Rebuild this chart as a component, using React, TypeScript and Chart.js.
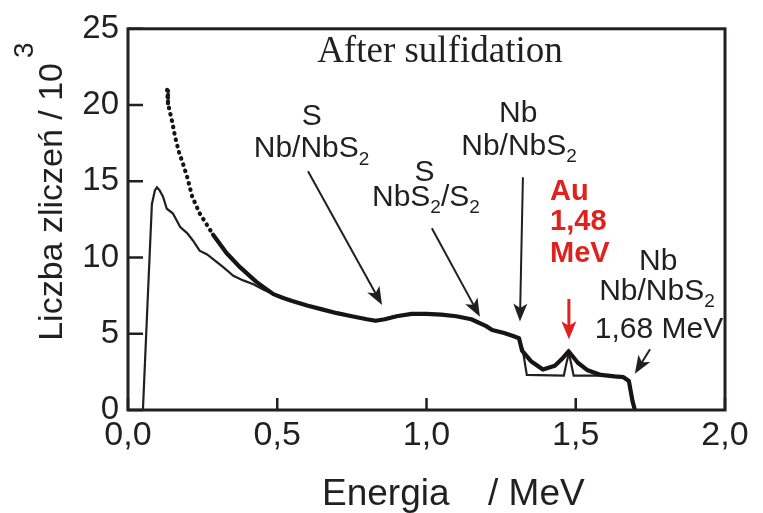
import { useEffect, useRef } from "react";
import { Chart, registerables } from "chart.js";

Chart.register(...registerables);

// ---------- data ----------
const energyA = [0.05, 0.065, 0.08, 0.09, 0.097, 0.106, 0.117, 0.13, 0.15, 0.175, 0.198, 0.218, 0.24, 0.265, 0.285, 0.32, 0.353, 0.386, 0.42, 0.453, 0.487, 0.52, 0.55, 0.6, 0.65, 0.7, 0.75, 0.8, 0.83, 0.86, 0.9, 0.95, 1.0, 1.05, 1.1, 1.15, 1.2, 1.22, 1.26, 1.29, 1.31, 1.322, 1.336, 1.46, 1.468, 1.477, 1.485, 1.493, 1.6, 1.66, 1.678, 1.69, 1.698];
const countsA = [0, 6.8, 13.5, 14.4, 14.6, 14.4, 14.0, 13.2, 12.9, 12.0, 11.6, 11.1, 10.45, 10.2, 9.9, 9.35, 8.8, 8.5, 8.25, 7.9, 7.6, 7.35, 7.15, 6.85, 6.6, 6.35, 6.15, 5.95, 5.85, 5.95, 6.15, 6.3, 6.3, 6.25, 6.15, 5.95, 5.5, 5.25, 5.05, 4.85, 4.7, 4.0, 2.3, 2.25, 3.0, 3.75, 3.0, 2.25, 2.25, 2.15, 1.9, 0.6, 0];

const energyB = [0.131, 0.134, 0.148, 0.158, 0.171, 0.185, 0.198, 0.215, 0.24, 0.285, 0.33, 0.376, 0.43, 0.487, 0.52, 0.55, 0.6, 0.65, 0.7, 0.75, 0.8, 0.83, 0.86, 0.9, 0.95, 1.0, 1.05, 1.1, 1.15, 1.2, 1.22, 1.26, 1.29, 1.31, 1.32, 1.35, 1.39, 1.43, 1.456, 1.476, 1.507, 1.54, 1.584, 1.63, 1.66, 1.678, 1.69, 1.698];
const countsB = [21.0, 20.1, 18.9, 17.9, 16.9, 16.1, 15.3, 14.0, 12.9, 11.5, 10.3, 9.35, 8.4, 7.6, 7.35, 7.15, 6.85, 6.6, 6.35, 6.15, 5.95, 5.85, 5.95, 6.15, 6.3, 6.3, 6.25, 6.15, 5.95, 5.5, 5.25, 5.05, 4.85, 4.7, 3.9, 3.2, 2.65, 2.9, 3.4, 3.85, 3.1, 2.6, 2.3, 2.2, 2.15, 1.9, 0.6, 0];

const xTickValues = [0, 0.5, 1.0, 1.5, 2.0];
const yTickValues = [0, 5, 10, 15, 20, 25];

const titleText = "After sulfidation";
const yTitleText = "Liczba zliczeń / 10";
const yTitleSup = "3";
const xTitleParts = ["Energia", "/ MeV"];

// ---------- styling ----------
const INK = "#231f20";
const RED = "#e0211d";
const SANS = "'Liberation Sans', Arial, sans-serif";
const SERIF = "'Liberation Serif', 'Times New Roman', serif";

type Part = [string, boolean?];

function drawRich(ctx: CanvasRenderingContext2D, parts: Part[], x: number, y: number, size: number, align: "center" | "left", color: string, bold = false) {
  const subSize = Math.round(size * 0.64);
  const w = parts.map(([t, sub]) => {
    ctx.font = `${bold ? "bold " : ""}${sub ? subSize : size}px ${SANS}`;
    return ctx.measureText(t).width;
  });
  const total = w.reduce((a, b) => a + b, 0);
  let cx = align === "center" ? x - total / 2 : x;
  ctx.fillStyle = color;
  ctx.textBaseline = "alphabetic";
  ctx.textAlign = "left";
  parts.forEach(([t, sub], i) => {
    ctx.font = `${bold ? "bold " : ""}${sub ? subSize : size}px ${SANS}`;
    ctx.fillText(t, cx, sub ? y + size * 0.24 : y);
    cx += w[i];
  });
}

function drawArrow(ctx: CanvasRenderingContext2D, x1: number, y1: number, x2: number, y2: number, color: string, lw: number, headLen: number, headW: number) {
  const a = Math.atan2(y2 - y1, x2 - x1);
  const c = Math.cos(a), s = Math.sin(a);
  ctx.strokeStyle = color;
  ctx.fillStyle = color;
  ctx.lineWidth = lw;
  ctx.beginPath();
  ctx.moveTo(x1, y1);
  ctx.lineTo(x2 - c * headLen * 0.7, y2 - s * headLen * 0.7);
  ctx.stroke();
  const bx = x2 - c * headLen, by = y2 - s * headLen;
  ctx.beginPath();
  ctx.moveTo(x2, y2);
  ctx.lineTo(bx - s * headW / 2, by + c * headW / 2);
  ctx.lineTo(x2 - c * headLen * 0.75, y2 - s * headLen * 0.75);
  ctx.lineTo(bx + s * headW / 2, by - c * headW / 2);
  ctx.closePath();
  ctx.fill();
}

// annotations in data coordinates (energy, counts)
const textNotes: { x: number; y: number; parts: Part[] }[] = [
  { x: 0.616, y: 18.69, parts: [["S"]] },
  { x: 0.615, y: 16.56, parts: [["Nb/NbS"], ["2", true]] },
  { x: 0.993, y: 15.01, parts: [["S"]] },
  { x: 0.998, y: 13.4, parts: [["NbS"], ["2", true], ["/S"], ["2", true]] },
  { x: 1.307, y: 18.88, parts: [["Nb"]] },
  { x: 1.31, y: 16.75, parts: [["Nb/NbS"], ["2", true]] },
  { x: 1.776, y: 9.21, parts: [["Nb"]] },
  { x: 1.772, y: 7.22, parts: [["Nb/NbS"], ["2", true]] },
  { x: 1.779, y: 4.7, parts: [["1,68 MeV"]] },
];
const redNotes: { x: number; y: number; text: string }[] = [
  { x: 1.414, y: 13.79, text: "Au" },
  { x: 1.414, y: 11.79, text: "1,48" },
  { x: 1.414, y: 9.73, text: "MeV" },
];
const arrows: { x1: number; y1: number; x2: number; y2: number; red?: boolean }[] = [
  { x1: 0.603, y1: 15.66, x2: 0.851, y2: 6.89 },
  { x1: 1.018, y1: 11.92, x2: 1.179, y2: 6.12 },
  { x1: 1.323, y1: 15.27, x2: 1.313, y2: 5.8 },
  { x1: 1.477, y1: 7.28, x2: 1.477, y2: 4.64, red: true },
  { x1: 1.749, y1: 3.99, x2: 1.698, y2: 2.38 },
];

const decorPlugin = {
  id: "decor",
  afterDatasetsDraw(chart: any) {
    const { ctx, scales } = chart;
    const xs = scales.x, ys = scales.y;
    ctx.save();
    // title
    ctx.font = `37px ${SERIF}`;
    ctx.fillStyle = INK;
    ctx.textAlign = "center";
    ctx.textBaseline = "alphabetic";
    ctx.fillText(titleText, xs.getPixelForValue(1.045), ys.getPixelForValue(22.81));
    // black labels
    textNotes.forEach((n) => drawRich(ctx, n.parts, xs.getPixelForValue(n.x), ys.getPixelForValue(n.y), 30, "center", INK));
    redNotes.forEach((n) => drawRich(ctx, [[n.text]], xs.getPixelForValue(n.x), ys.getPixelForValue(n.y), 29, "left", RED, true));
    // arrows
    arrows.forEach((a) =>
      drawArrow(ctx, xs.getPixelForValue(a.x1), ys.getPixelForValue(a.y1), xs.getPixelForValue(a.x2), ys.getPixelForValue(a.y2),
        a.red ? RED : INK, a.red ? 3 : 2, 18, a.red ? 15 : 14)
    );
    ctx.restore();
  },
  afterDraw(chart: any) {
    const { ctx, scales, chartArea } = chart;
    const xs = scales.x, ys = scales.y;
    const { left, right, top, bottom } = chartArea;
    ctx.save();
    ctx.strokeStyle = INK;
    // inward ticks
    ctx.lineWidth = 2.5;
    ctx.beginPath();
    xTickValues.forEach((v) => {
      const px = xs.getPixelForValue(v);
      ctx.moveTo(px, bottom);
      ctx.lineTo(px, bottom - 12);
    });
    yTickValues.forEach((v) => {
      const py = ys.getPixelForValue(v);
      ctx.moveTo(left, py);
      ctx.lineTo(left + 15, py);
    });
    ctx.stroke();
    // frame
    ctx.lineWidth = 3;
    ctx.strokeRect(left, top, right - left, bottom - top);
    // y title with superscript (anchored at its end, next to the superscript)
    ctx.fillStyle = INK;
    ctx.textBaseline = "alphabetic";
    ctx.translate(left - 66, bottom - 70);
    ctx.rotate(-Math.PI / 2);
    ctx.font = `34px ${SANS}`;
    ctx.textAlign = "right";
    ctx.fillText(yTitleText, 277, 0);
    ctx.font = `28px ${SANS}`;
    ctx.textAlign = "left";
    ctx.fillText(yTitleSup, 282, -29);
    ctx.restore();
    // x title
    ctx.save();
    ctx.fillStyle = INK;
    ctx.font = `37px ${SANS}`;
    ctx.textAlign = "left";
    ctx.textBaseline = "alphabetic";
    ctx.fillText(xTitleParts[0], left + 194, bottom + 95);
    ctx.fillText(xTitleParts[1], left + 360, bottom + 95);
    ctx.restore();
  },
};

export default function App() {
  const ref = useRef<HTMLCanvasElement>(null);
  useEffect(() => {
    if (!ref.current) return;
    const fmt = (v: number) => v.toFixed(1).replace(".", ",");
    const chart = new Chart(ref.current, {
      type: "line",
      data: {
        datasets: [
          {
            label: "B",
            data: energyB.map((e, i) => ({ x: e, y: countsB[i] })),
            borderColor: "#161414",
            borderWidth: 4.2,
            borderCapStyle: "round",
            borderJoinStyle: "round",
            pointRadius: 0,
            tension: 0,
            segment: {
              borderDash: (c: any) => (c.p0.parsed.x < 0.25 ? [0.5, 6] : undefined),
            },
          } as any,
          {
            label: "A",
            data: energyA.map((e, i) => ({ x: e, y: countsA[i] })),
            borderColor: INK,
            borderWidth: 2.2,
            pointRadius: 0,
            tension: 0,
          },
        ],
      },
      options: {
        animation: false,
        responsive: false,
        events: [],
        layout: { padding: { top: 22, right: 38, left: 0, bottom: 0 } },
        plugins: { legend: { display: false }, tooltip: { enabled: false }, title: { display: false } },
        scales: {
          x: {
            type: "linear",
            min: 0,
            max: 2,
            afterBuildTicks: (s: any) => { s.ticks = xTickValues.map((v) => ({ value: v })); },
            afterFit: (s: any) => { s.height = 103; },
            grid: { display: false, drawTicks: false },
            border: { display: false },
            ticks: { padding: 5, color: INK, font: { family: SANS, size: 34 }, callback: (v: any) => fmt(Number(v)), maxRotation: 0, autoSkip: false },
          },
          y: {
            type: "linear",
            min: 0,
            max: 25,
            afterBuildTicks: (s: any) => { s.ticks = yTickValues.map((v) => ({ value: v })); },
            afterFit: (s: any) => { s.width = 128; },
            grid: { display: false, drawTicks: false },
            border: { display: false },
            ticks: { padding: 9, color: INK, font: { family: SANS, size: 33 }, autoSkip: false },
          },
        },
      },
      plugins: [decorPlugin],
    });
    return () => chart.destroy();
  }, []);
  return (
    <div style={{ position: "absolute", left: 0, top: 0, width: 763, height: 513, background: "#fff" }}>
      <canvas ref={ref} width={763} height={513} />
    </div>
  );
}
